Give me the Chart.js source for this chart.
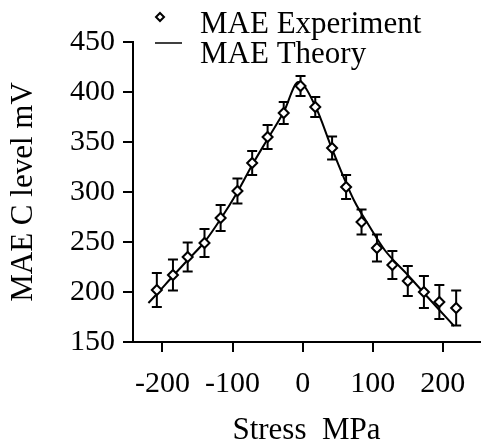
<!DOCTYPE html>
<html>
<head>
<meta charset="utf-8">
<script src="https://cdn.jsdelivr.net/npm/chart.js@4.4.1/dist/chart.umd.min.js"></script>
<style>
html, body { margin: 0; padding: 0; background: #fff; }
#wrap { width: 487px; height: 446px; }
</style>
</head>
<body>
<div id="wrap"><canvas id="maeChart" width="487" height="446"></canvas></div>
<script>
// measured points (stress in MPa, MAE level in mV, +/- error)
var stressExp = [-208, -185, -164, -140, -117, -93, -72, -50, -27, -3, 18, 42, 62, 84, 106, 128, 150, 173, 195, 219];
var maeExp = [202, 217, 235, 249, 274, 301, 329, 355, 379, 406, 385, 344, 305, 270, 244, 227, 211, 200, 190, 184];
var maeErr = [17, 15.5, 14.5, 14, 13, 12.5, 12, 12, 11, 10, 10, 11.5, 12, 12.5, 13.5, 14, 15, 16, 17, 17.5];

// theory curve
var stressTheory = [-220, -208, -185, -164, -140, -117, -93, -72, -50, -27, -6, 18, 42, 73, 95, 117, 150, 173, 195, 216];
var maeTheory = [189, 198, 216, 232, 250, 273, 300, 327, 353, 380, 410, 386, 343, 292, 266, 242, 217, 199, 182, 166];

var xTicks = [-200, -100, 0, 100, 200];
var yTicks = [150, 200, 250, 300, 350, 400, 450];

var serif = '"Liberation Serif", "Times New Roman", serif';
Chart.defaults.font.family = serif;
Chart.defaults.color = '#000';

function toPoints(xs, ys) {
	return xs.map(function(x, i) { return { x: x, y: ys[i] }; });
}

var errorBars = {
	id: 'errorBars',
	beforeDatasetDraw: function(chart, args) {
		if (args.index !== 0) return;
		var xs = chart.scales.x, ys = chart.scales.y, ctx = chart.ctx;
		ctx.save();
		ctx.strokeStyle = '#000';
		ctx.lineWidth = 2;
		for (var i = 0; i < stressExp.length; i++) {
			var px = xs.getPixelForValue(stressExp[i]);
			var top = ys.getPixelForValue(maeExp[i] + maeErr[i]);
			var bot = ys.getPixelForValue(maeExp[i] - maeErr[i]);
			ctx.beginPath();
			ctx.moveTo(px, top); ctx.lineTo(px, bot);
			ctx.moveTo(px - 5, top); ctx.lineTo(px + 5, top);
			ctx.moveTo(px - 5, bot); ctx.lineTo(px + 5, bot);
			ctx.stroke();
		}
		ctx.restore();
	}
};

// legend sits above the plot, drawn by hand
var cornerLegend = {
	id: 'cornerLegend',
	afterDraw: function(chart) {
		var ctx = chart.ctx;
		ctx.save();
		ctx.strokeStyle = '#000';
		ctx.fillStyle = '#fff';
		ctx.lineWidth = 2;
		ctx.beginPath();
		ctx.moveTo(160, 13); ctx.lineTo(164, 17); ctx.lineTo(160, 21); ctx.lineTo(156, 17);
		ctx.closePath();
		ctx.fill(); ctx.stroke();

		ctx.lineWidth = 1.5;
		ctx.beginPath();
		ctx.moveTo(155, 43); ctx.lineTo(182, 43);
		ctx.stroke();

		ctx.fillStyle = '#000';
		ctx.font = '31px ' + serif;
		ctx.textBaseline = 'alphabetic';
		ctx.fillText('MAE Experiment', 200, 33);
		ctx.fillText('MAE Theory', 200, 63);
		ctx.restore();
	}
};

var ctx = document.getElementById('maeChart').getContext('2d');
var maeChart = new Chart(ctx, {
	type: 'scatter',
	data: {
		datasets: [{
			label: 'MAE Experiment',
			data: toPoints(stressExp, maeExp),
			pointStyle: 'rectRot',
			pointRadius: 5,
			pointBorderWidth: 2,
			borderColor: '#000',
			backgroundColor: '#fff',
			showLine: false
		}, {
			label: 'MAE Theory',
			data: toPoints(stressTheory, maeTheory),
			showLine: true,
			pointRadius: 0,
			borderColor: '#000',
			borderWidth: 2,
			cubicInterpolationMode: 'monotone',
			fill: false
		}]
	},
	options: {
		responsive: false,
		animation: false,
		devicePixelRatio: 1,
		layout: { padding: { top: 42, right: 0, left: 0, bottom: 0 } },
		plugins: {
			legend: { display: false },
			tooltip: { enabled: false }
		},
		scales: {
			x: {
				type: 'linear',
				min: -242,
				max: 253,
				afterBuildTicks: function(scale) {
					scale.ticks = xTicks.map(function(v) { return { value: v }; });
				},
				afterFit: function(scale) { scale.height = 104; },
				ticks: { font: { size: 30 }, color: '#000', padding: 14, maxRotation: 0 },
				grid: { drawOnChartArea: false, drawTicks: true, tickLength: 10, color: '#000', lineWidth: 2 },
				border: { display: true, color: '#000', width: 2 },
				title: { display: true, text: 'Stress  MPa', font: { size: 31 }, color: '#000', padding: { top: 0, bottom: -3 } }
			},
			y: {
				type: 'linear',
				min: 150,
				max: 450,
				afterBuildTicks: function(scale) {
					scale.ticks = yTicks.map(function(v) { return { value: v }; });
				},
				afterFit: function(scale) { scale.width = 133; },
				ticks: { font: { size: 30 }, color: '#000', padding: 8 },
				grid: { drawOnChartArea: false, drawTicks: true, tickLength: 10, color: '#000', lineWidth: 2 },
				border: { display: true, color: '#000', width: 2 },
				title: { display: true, text: 'MAE C level mV', font: { size: 31 }, color: '#000', padding: { top: 5, bottom: 0 } }
			}
		}
	},
	plugins: [errorBars, cornerLegend]
});
</script>
</body>
</html>
